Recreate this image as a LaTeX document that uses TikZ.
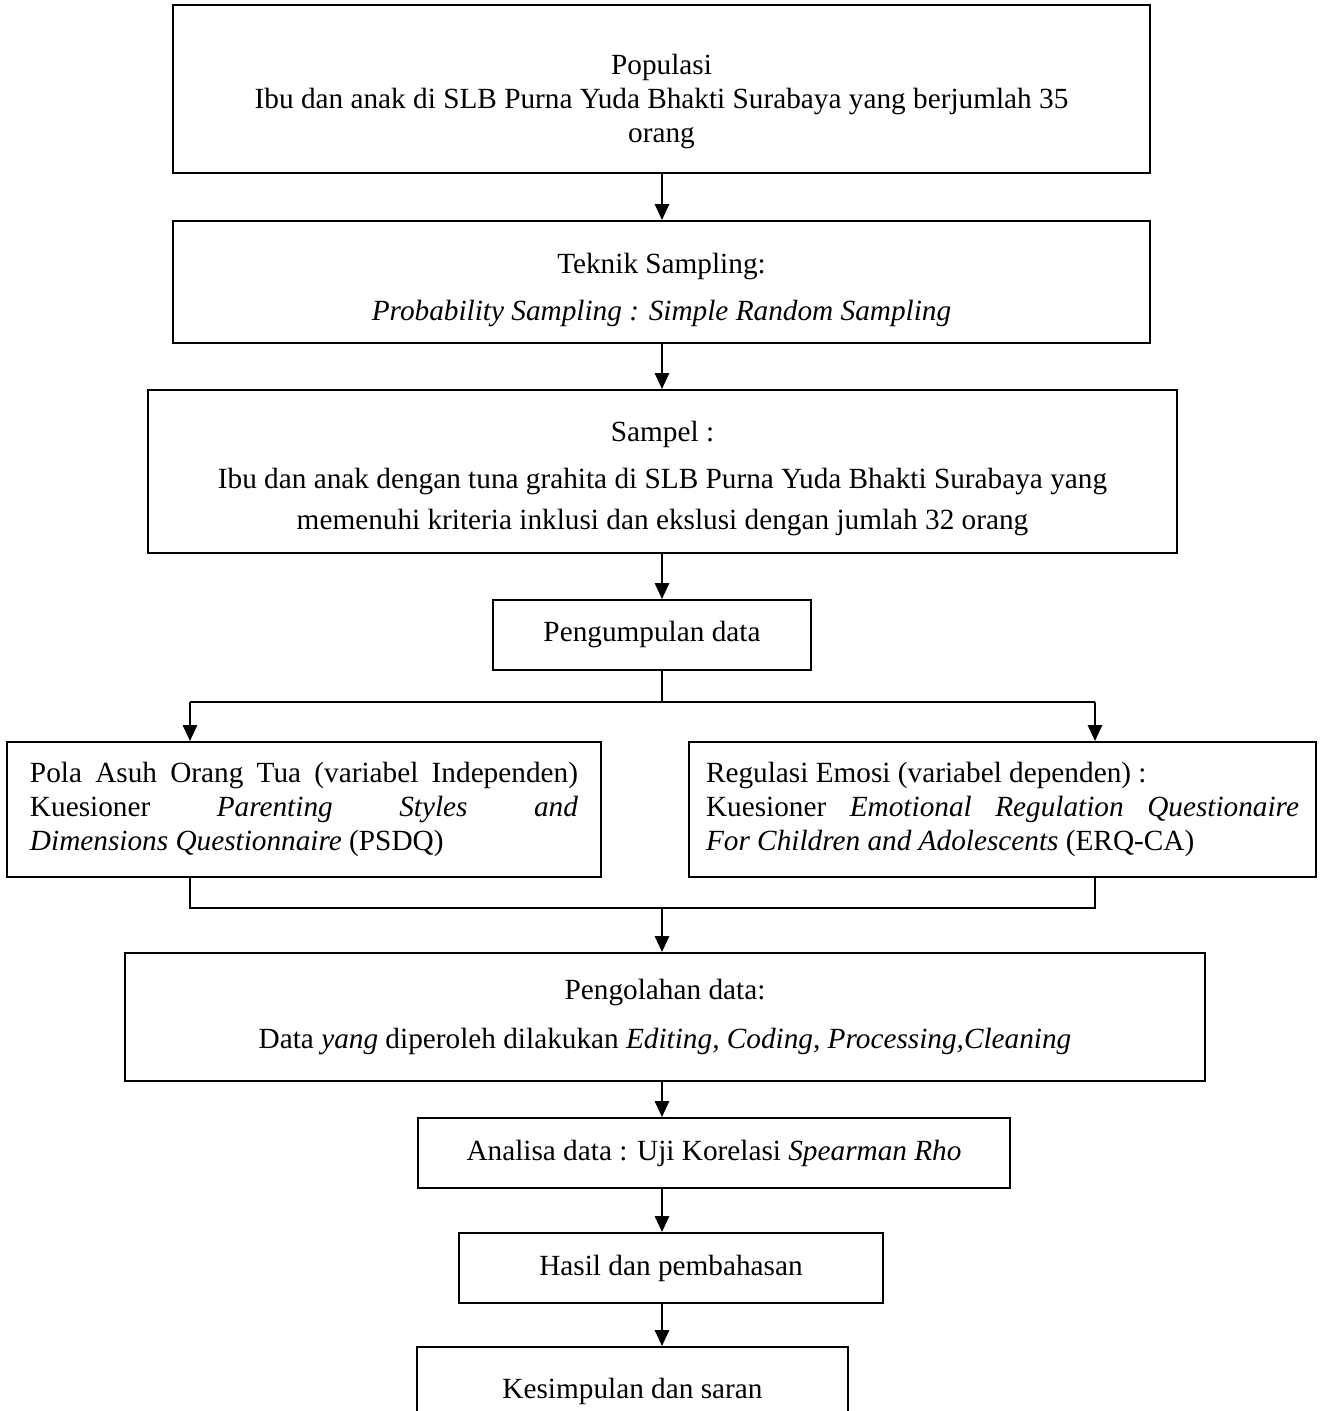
\documentclass[tikz,border=0pt]{standalone}
\usepackage{fontspec}
\setmainfont{Liberation Serif}
\usetikzlibrary{arrows.meta}
\begin{document}
\begin{tikzpicture}[x=0.41pt,y=-0.41pt,
  flowbox/.style 2 args={draw, line width=0.8pt, minimum width=#1*0.41pt,
    minimum height=#2*0.41pt, inner sep=0pt, align=center,
    font=\fontsize{12}{14}\selectfont},
  arr/.style={line width=0.9pt, -{Triangle[length=6.5pt,width=5.8pt]}},
  ln/.style={line width=0.6pt}]
\useasboundingbox (0,0) rectangle (1330,1411);
\clip (0,0) rectangle (1330,1411);

\node[flowbox={977}{168}] (b1) at (661.5,89)
  {\rule{0pt}{18.8pt}Populasi\\Ibu dan anak di SLB Purna Yuda Bhakti Surabaya yang berjumlah 35\\orang};
\node[flowbox={977}{122}] (b2) at (661.5,282)
  {\rule{0pt}{14.8pt}Teknik Sampling:\\[5pt]\textit{Probability Sampling : Simple Random Sampling}};
\node[flowbox={1029}{163}] (b3) at (662.5,471.5)
  {\rule{0pt}{14.4pt}Sampel :\\[5pt]Ibu dan anak dengan tuna grahita di SLB Purna Yuda Bhakti Surabaya yang\\[3pt]memenuhi kriteria inklusi dan ekslusi dengan jumlah 32 orang};
\node[flowbox={318}{70}] (b4) at (652,635) {Pengumpulan data};
\node[flowbox={594}{135}, text width=548*0.41pt, align=justify] (b5) at (304,809.5)
  {Pola Asuh Orang Tua (variabel Independen)\linebreak
   Kuesioner \textit{Parenting Styles and}\linebreak
   \textit{Dimensions Questionnaire} (PSDQ)};
\node[flowbox={627}{135}, text width=593*0.41pt, align=justify] (b6) at (1002.5,809.5)
  {Regulasi Emosi (variabel dependen) :\\
   Kuesioner \textit{Emotional Regulation Questionaire}\linebreak
   \textit{For Children and Adolescents} (ERQ-CA)};
\node[flowbox={1080}{128}] (b7) at (665,1017)
  {Pengolahan data:\\[6pt]Data \textit{yang} diperoleh dilakukan \textit{Editing, Coding, Processing,Cleaning}};
\node[flowbox={592}{70}] (b8) at (714,1153) {Analisa data : Uji Korelasi \textit{Spearman Rho}};
\node[flowbox={424}{70}] (b9) at (671,1268) {Hasil dan pembahasan};
\node[flowbox={431}{88}] (b10) at (632.5,1391) {Kesimpulan dan saran};

\coordinate (col) at (662,0);
\coordinate (split) at (662,702);
\coordinate (lx) at (190,702);
\coordinate (rx) at (1095,702);
\coordinate (lm) at (190,908);
\coordinate (rm) at (1095,908);
\coordinate (mm) at (662,908);

\draw[arr] (b1.south -| col) -- (b2.north -| col);
\draw[arr] (b2.south -| col) -- (b3.north -| col);
\draw[arr] (b3.south -| col) -- (b4.north -| col);
\draw[ln] (b4.south -| col) -- (split);
\draw[ln] (lx) -- (rx);
\draw[arr] (lx) -- (b5.north -| lx);
\draw[arr] (rx) -- (b6.north -| rx);
\draw[ln] (b5.south -| lm) -- (lm) -- (rm) -- (b6.south -| rm);
\draw[arr] (mm) -- (b7.north -| mm);
\draw[arr] (b7.south -| col) -- (b8.north -| col);
\draw[arr] (b8.south -| col) -- (b9.north -| col);
\draw[arr] (b9.south -| col) -- (b10.north -| col);
\end{tikzpicture}
\end{document}
